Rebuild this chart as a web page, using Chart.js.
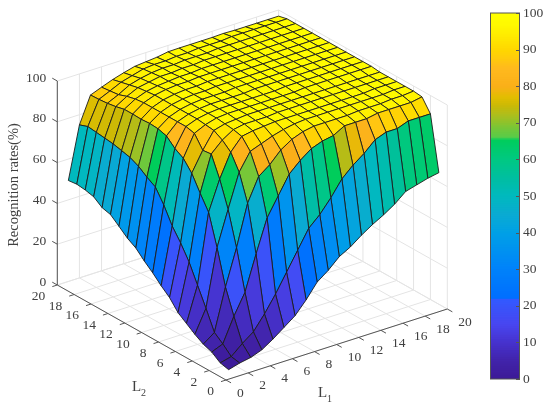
<!DOCTYPE html>
<html>
<head>
<meta charset="utf-8">
<title>Recognition rates</title>
<script src="https://cdn.jsdelivr.net/npm/chart.js@4/dist/chart.umd.min.js"></script>
<style>
  body { margin: 0; background: #fff; }
  #wrap { position: relative; width: 550px; height: 410px; overflow: hidden; }
  canvas { position: absolute; top: 0; }
  #surface { left: 0; }
  #colorbar { left: 490px; }
</style>
</head>
<body>
<div id="wrap">
  <canvas id="surface" width="550" height="410"></canvas>
  <canvas id="colorbar" width="60" height="410"></canvas>
</div>
<script>
const l1Values = [1, 2, 3, 4, 5, 6, 7, 8, 9, 10, 11, 12, 13, 14, 15, 16, 17, 18, 19, 20];
const l2Values = [1, 2, 3, 4, 5, 6, 7, 8, 9, 10, 11, 12, 13, 14, 15, 16, 17, 18, 19, 20];

// one row per L2 value, one column per L1 value
const rates = [
  [1, 2.5, 3.5, 5.5, 9, 13, 17, 23, 30, 34, 39, 42, 46, 49.5, 52.5, 56, 60.5, 62, 63.5, 64.5],
  [2, 3.3, 8, 12, 19, 27, 36, 45, 54, 59, 65.5, 73, 78, 82, 87, 89, 89, 91, 91, 91],
  [5, 7.2, 19, 29, 46, 62, 71, 80, 85, 89, 91, 92, 95, 95, 95, 96, 96, 96, 96, 97],
  [6.5, 10.5, 31, 48.5, 68.6, 80, 84, 89.5, 93, 95, 96, 96, 96, 96, 96.5, 96.5, 96.5, 97, 97, 97.5],
  [9, 20, 48, 65, 81.5, 90, 92, 94, 95.5, 96.5, 97, 97, 97, 97, 97, 97, 97, 97, 97.5, 97.5],
  [12, 29, 63, 77.5, 89, 95, 96, 96.5, 97, 97, 97, 97, 97, 97, 97, 97, 97, 97.5, 97.5, 97.5],
  [15, 38, 70, 87.5, 92.6, 96, 97, 97, 97, 97.5, 97.5, 97.5, 97.5, 97.5, 97.5, 97.5, 97.5, 97.5, 97.5, 97.5],
  [20, 45, 77.5, 87, 95, 96.5, 97, 97.5, 97.5, 97.5, 97.5, 97.5, 97.5, 97.5, 97.5, 97.5, 97.5, 97.5, 97.5, 97.5],
  [23.5, 51, 82.5, 93, 95.5, 97, 97.5, 97.5, 97.5, 97.5, 97.5, 97.5, 97.5, 98, 98, 98, 98, 98, 98, 98],
  [27.5, 59, 85, 94, 96, 97, 97.5, 97.5, 97.5, 97.5, 97.5, 97.5, 98, 98, 98, 98, 98, 98, 98, 98],
  [31, 65.5, 88.8, 94, 96, 97, 97.5, 97.5, 97.5, 97.5, 98, 98, 98, 98, 98, 98, 98, 98, 98, 98],
  [35, 68, 90, 94, 96, 97, 97.5, 97.5, 97.5, 98, 98, 98, 98, 98, 98, 98, 98, 98, 98, 98],
  [37.5, 71, 90.3, 94, 96, 97, 97.5, 97.5, 98, 98, 98, 98, 98, 98, 98, 98, 98, 98, 98, 98],
  [41, 73, 90, 94, 96, 97, 97.5, 97.5, 98, 98, 98, 98, 98, 98, 98, 98, 98, 98, 98, 98],
  [44.4, 74, 90.2, 94, 96, 97, 97.5, 97.5, 98, 98, 98, 98, 98, 98, 98, 98, 98, 98, 98, 98],
  [45.5, 75, 90.2, 93.5, 95.5, 96.5, 97, 97.5, 97.5, 98, 98, 98, 98, 98, 98, 98, 98, 98, 98, 98],
  [48.5, 75.5, 89.2, 92.5, 95, 96, 97, 97, 97.5, 97.5, 98, 98, 98, 98, 98, 98, 98, 98, 98, 98],
  [49.5, 76, 88.5, 91, 94, 95.5, 96.5, 97, 97, 97.5, 97.5, 97.5, 98, 98, 98, 98, 98, 98, 98, 98],
  [50, 76.5, 88.1, 90.5, 93, 94.5, 96, 96.5, 96.5, 97, 97, 97.5, 97.5, 97.5, 98, 98, 98, 98, 98, 98],
  [49.5, 75, 87.9, 90, 92, 93.6, 95, 95.5, 96, 96.9, 97, 97, 97, 97, 97.2, 97, 97, 97, 97, 97]
];

const l1Ticks = [0, 2, 4, 6, 8, 10, 12, 14, 16, 18, 20];
const l2Ticks = [0, 2, 4, 6, 8, 10, 12, 14, 16, 18, 20];
const zTicks = [0, 20, 40, 60, 80, 100];
const colorbarTicks = [0, 10, 20, 30, 40, 50, 60, 70, 80, 90, 100];

// colormap
const mapLevels = [0, 5, 10, 15, 21.9, 22, 30, 40, 45, 50, 55, 60, 65.7, 65.8, 68, 72, 75, 77, 80, 85, 88, 90, 94, 97, 100];
const mapColors = [
  [60, 25, 150], [65, 35, 170], [70, 50, 205], [72, 70, 240], [50, 90, 255], [0, 110, 255],
  [0, 130, 250], [0, 160, 230], [10, 170, 210], [0, 185, 190], [0, 190, 160], [0, 200, 130],
  [0, 205, 90], [85, 205, 75], [110, 200, 60], [170, 190, 30], [205, 185, 5], [225, 190, 0],
  [250, 175, 25], [255, 185, 30], [255, 205, 10], [255, 215, 0], [255, 235, 0], [255, 250, 0], [255, 255, 0]
];

const textColor = '#404040';
const axisColor = '#555555';
const gridColor = '#e4e4e4';
const edgeColor = '#1c1c1c';
const tickFont = '13.5px "Liberation Serif", serif';

function colorFor(value) {
  for (let k = 1; k < mapLevels.length; k++) {
    if (value <= mapLevels[k]) {
      const t = (value - mapLevels[k - 1]) / (mapLevels[k] - mapLevels[k - 1]);
      const c = mapColors[k].map((v, n) => Math.round(mapColors[k - 1][n] + (v - mapColors[k - 1][n]) * t));
      return 'rgb(' + c.join(',') + ')';
    }
  }
  return 'rgb(255,255,0)';
}

// MATLAB style view: orthographic, so three vectors are enough
function project(l1, l2, z) {
  return {
    x: 226 + l1 * 11.065 - l2 * 8.435,
    y: 380 - l1 * 3.55 - l2 * 4.75 - z * 2.04
  };
}

function lineDataset(points, color) {
  return {
    data: points,
    showLine: true,
    borderColor: color,
    borderWidth: 1,
    pointRadius: 0,
    fill: false
  };
}

function buildDatasets() {
  const back = [];

  // walls and floor grid
  l1Ticks.forEach(t => {
    back.push(lineDataset([project(t, 0, 0), project(t, 20, 0), project(t, 20, 100)], gridColor));
  });
  l2Ticks.forEach(t => {
    back.push(lineDataset([project(0, t, 0), project(20, t, 0), project(20, t, 100)], gridColor));
  });
  zTicks.forEach(t => {
    back.push(lineDataset([project(0, 20, t), project(20, 20, t), project(20, 0, t)], gridColor));
  });

  // axis lines and ticks
  back.push(lineDataset([project(0, 20, 0), project(0, 20, 100)], axisColor));
  back.push(lineDataset([project(0, 20, 0), project(0, 0, 0), project(20, 0, 0)], axisColor));
  zTicks.forEach(t => {
    back.push(lineDataset([project(0, 20, t), project(0, 20.6, t)], axisColor));
  });
  l1Ticks.forEach(t => {
    back.push(lineDataset([project(t, 0, 0), project(t, -0.6, 0)], axisColor));
  });
  l2Ticks.forEach(t => {
    back.push(lineDataset([project(0, t, 0), project(-0.45, t, 0)], axisColor));
  });

  // surface cells, far corner first
  for (let i = l1Values.length - 2; i >= 0; i--) {
    for (let j = l2Values.length - 2; j >= 0; j--) {
      const cell = [
        project(l1Values[i], l2Values[j], rates[j][i]),
        project(l1Values[i + 1], l2Values[j], rates[j][i + 1]),
        project(l1Values[i + 1], l2Values[j + 1], rates[j + 1][i + 1]),
        project(l1Values[i], l2Values[j + 1], rates[j + 1][i]),
        project(l1Values[i], l2Values[j], rates[j][i])
      ];
      const ds = lineDataset(cell, edgeColor);
      ds.fill = 'shape';
      ds.backgroundColor = colorFor(rates[j][i]);
      ds.borderWidth = 0.9;
      back.push(ds);
    }
  }

  // chart.js paints the last dataset first
  return back.reverse();
}

const axisLabels = {
  id: 'axisLabels',
  afterDatasetsDraw(chart) {
    const ctx = chart.ctx;
    const sx = v => chart.scales.x.getPixelForValue(v);
    const sy = v => chart.scales.y.getPixelForValue(v);

    ctx.save();
    ctx.fillStyle = textColor;
    ctx.font = tickFont;
    ctx.textBaseline = 'middle';

    ctx.textAlign = 'right';
    zTicks.forEach(t => {
      const p = project(0, 20, t);
      ctx.fillText(String(t), sx(p.x) - 11, sy(p.y) - 3);
    });
    l2Ticks.forEach(t => {
      const p = project(0, t, 0);
      ctx.fillText(String(t), sx(p.x) - 12, sy(p.y) + 11.5);
    });
    ctx.textAlign = 'left';
    l1Ticks.forEach(t => {
      const p = project(t, 0, 0);
      ctx.fillText(String(t), sx(p.x) + 11, sy(p.y) + 13);
    });

    // L1 / L2 with subscripts
    ctx.font = '15px "Liberation Serif", serif';
    ctx.fillText('L', 318, 393);
    ctx.fillText('L', 132, 387);
    ctx.font = '10px "Liberation Serif", serif';
    ctx.fillText('1', 327, 399);
    ctx.fillText('2', 141, 393);

    ctx.translate(14, 185);
    ctx.rotate(-Math.PI / 2);
    ctx.textAlign = 'center';
    ctx.font = '14.5px "Liberation Serif", serif';
    ctx.fillText('Recognition rates(%)', 0, 0);
    ctx.restore();
  }
};

new Chart(document.getElementById('surface'), {
  type: 'scatter',
  data: { datasets: buildDatasets() },
  options: {
    responsive: false,
    animation: false,
    events: [],
    layout: { padding: 0 },
    elements: { line: { tension: 0 } },
    plugins: { legend: { display: false }, tooltip: { enabled: false } },
    scales: {
      x: { type: 'linear', min: 0, max: 550, display: false },
      y: { type: 'linear', min: 0, max: 410, reverse: true, display: false }
    }
  },
  plugins: [axisLabels]
});

// colorbar
const colorbarLevels = [];
for (let v = 0; v < 100; v += 0.5) colorbarLevels.push(v);

const colorbarFrame = {
  id: 'colorbarFrame',
  afterDatasetsDraw(chart) {
    const ctx = chart.ctx;
    const area = chart.chartArea;
    const scale = chart.scales.y;
    ctx.save();
    ctx.strokeStyle = axisColor;
    ctx.lineWidth = 1;
    ctx.strokeRect(area.left + 0.5, area.top, area.right - area.left - 1, area.bottom - area.top);
    colorbarTicks.forEach(t => {
      const y = Math.round(scale.getPixelForValue(t)) + 0.5;
      ctx.beginPath();
      ctx.moveTo(area.right, y);
      ctx.lineTo(area.right - 4, y);
      ctx.stroke();
    });
    ctx.restore();
  }
};

new Chart(document.getElementById('colorbar'), {
  type: 'bar',
  data: {
    labels: ['rate'],
    datasets: colorbarLevels.map(v => ({
      data: [[v, Math.min(v + 0.8, 100)]],
      backgroundColor: colorFor(v + 0.25),
      borderWidth: 0,
      barPercentage: 1,
      categoryPercentage: 1,
      grouped: false,
      order: -v
    }))
  },
  options: {
    responsive: false,
    animation: false,
    events: [],
    layout: { padding: { top: 13, bottom: 31, left: 0, right: 0 } },
    plugins: { legend: { display: false }, tooltip: { enabled: false } },
    scales: {
      x: { display: false },
      y: {
        position: 'right',
        min: 0,
        max: 100,
        afterFit: scale => { scale.width = 30; },
        border: { display: false },
        grid: { display: false, drawTicks: false, tickLength: 0 },
        ticks: {
          stepSize: 10,
          padding: 3,
          color: textColor,
          font: { family: '"Liberation Serif", serif', size: 13.5 }
        }
      }
    }
  },
  plugins: [colorbarFrame]
});
</script>
</body>
</html>
